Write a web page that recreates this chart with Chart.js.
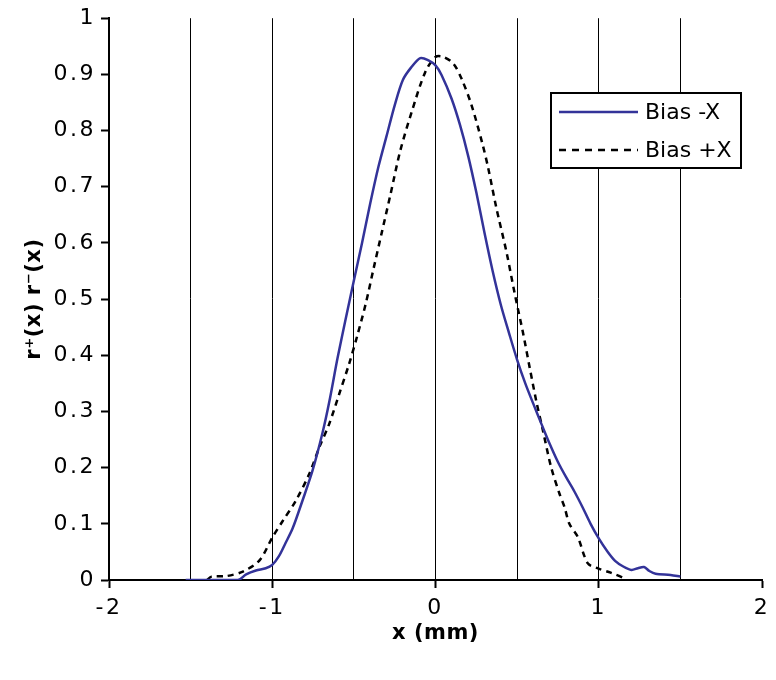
<!DOCTYPE html>
<html>
<head>
<meta charset="utf-8">
<script src="https://cdn.jsdelivr.net/npm/chart.js@4"></script>
<style>
html,body{margin:0;padding:0;background:#fff;}
#wrap{width:776px;height:680px;}
</style>
</head>
<body>
<div id="wrap"><canvas id="chart" width="776" height="680"></canvas></div>
<script>
// values
let minusX=[-1.53,-1.21,-1.16,-1.10,-1.04,-1.00,-0.96,-0.92,-0.875,-0.814,-0.753,-0.692,-0.65,-0.60,-0.55,-0.50,-0.45,-0.40,-0.35,-0.30,-0.25,-0.20,-0.15,-0.093,-0.043,0,0.037,0.098,0.15,0.20,0.25,0.30,0.35,0.40,0.45,0.50,0.55,0.60,0.65,0.70,0.75,0.80,0.85,0.90,0.95,1.00,1.05,1.10,1.15,1.20,1.24,1.277,1.31,1.348,1.44,1.5]
let minusY=[0,0,0.01,0.017,0.021,0.027,0.042,0.065,0.092,0.142,0.195,0.262,0.318,0.395,0.465,0.533,0.600,0.670,0.735,0.790,0.845,0.890,0.912,0.929,0.925,0.916,0.899,0.857,0.81,0.755,0.69,0.618,0.55,0.49,0.44,0.392,0.35,0.313,0.277,0.242,0.21,0.183,0.158,0.13,0.10,0.074,0.052,0.034,0.024,0.018,0.021,0.023,0.016,0.011,0.009,0.006]

let plusX=[-1.40,-1.372,-1.28,-1.18,-1.078,-0.997,-0.936,-0.854,-0.773,-0.712,-0.651,-0.59,-0.53,-0.479,-0.428,-0.378,-0.327,-0.276,-0.215,-0.146,-0.063,0,0.049,0.11,0.16,0.221,0.287,0.323,0.373,0.434,0.485,0.536,0.577,0.617,0.658,0.708,0.759,0.79,0.82,0.871,0.932,0.992,1.073,1.155,1.16]
let plusY=[0,0.006,0.007,0.015,0.035,0.077,0.105,0.142,0.189,0.236,0.278,0.331,0.384,0.435,0.491,0.556,0.621,0.686,0.765,0.833,0.904,0.931,0.931,0.919,0.892,0.845,0.777,0.733,0.662,0.585,0.51,0.44,0.378,0.319,0.266,0.201,0.154,0.13,0.1,0.077,0.03,0.021,0.013,0.003,0]

let seriesNames=["Bias -X","Bias +X"]
let xTickLabels=["-2","-1","0","1","2"]

function pairs(xs,ys){
return xs.map((x,i)=>({x:x,y:ys[i]}))
}

// letter spacing for text, legend drawn as a box inside the plot
let textPlugin={
id:"textSpacing",
beforeDraw(chart){ chart.ctx.letterSpacing="0.5px" },
afterDatasetsDraw(chart){ chart.ctx.letterSpacing="2.5px" },
afterDraw(chart){
let ctx=chart.ctx
ctx.save()
ctx.letterSpacing="0px"
let left=551,top=93,w=190,h=75
ctx.fillStyle="#fff"
ctx.fillRect(left,top,w,h)
ctx.lineWidth=2
ctx.strokeStyle="#000"
ctx.setLineDash([])
ctx.strokeRect(left,top,w,h)
chart.data.datasets.forEach((ds,i)=>{
let y=top+19+i*38
ctx.beginPath()
ctx.strokeStyle=ds.borderColor
ctx.lineWidth=ds.borderWidth
ctx.setLineDash(ds.borderDash?[7,6]:[])
ctx.moveTo(left+8,y)
ctx.lineTo(left+87,y)
ctx.stroke()
ctx.setLineDash([])
ctx.fillStyle="#000"
ctx.font="22px 'DejaVu Sans'"
ctx.textBaseline="middle"
ctx.textAlign="left"
ctx.fillText(ds.label,left+94,y+1)
})
ctx.restore()
chart.ctx.letterSpacing="0px"
}
}

let ctx=document.getElementById("chart").getContext("2d")

new Chart(ctx,{
type:"scatter",
data:{
datasets:[{
label:seriesNames[0],
data:pairs(minusX,minusY),
showLine:true,
borderColor:"#333399",
borderWidth:2.5,
pointRadius:0,
tension:0.3,
fill:false
},{
label:seriesNames[1],
data:pairs(plusX,plusY),
showLine:true,
borderColor:"#000000",
borderWidth:2.5,
borderDash:[6,5],
pointRadius:0,
tension:0.3,
fill:false
}]
},
options:{
responsive:false,
animation:false,
layout:{padding:{top:16,right:10,left:0,bottom:0}},
plugins:{legend:{display:false},tooltip:{enabled:false}},
scales:{
x:{
type:"linear",
min:-2,max:2,
afterFit(s){ s.height=100 },
border:{color:"#000",width:2},
grid:{
color:c=>(c.tick && c.tick.value>-2 && c.tick.value<2)?"#000":"rgba(0,0,0,0)",
lineWidth:1,
tickColor:c=>(c.tick && Number.isInteger(c.tick.value))?"#000":"rgba(0,0,0,0)",
tickLength:8,
tickWidth:2
},
ticks:{
stepSize:0.5,
z:1,
autoSkip:false,
maxRotation:0,
padding:7,
color:"#000",
font:{family:"'DejaVu Sans'",size:22},
callback:v=>Number.isInteger(v)?xTickLabels[v+2]:""
},
title:{
display:true,
text:"x (mm)",
color:"#000",
font:{family:"'DejaVu Sans'",size:21,weight:"bold"},
padding:{top:0,bottom:34}
}
},
y:{
min:0,max:1,
afterFit(s){ s.width=109 },
border:{color:"#000",width:2},
grid:{
drawOnChartArea:false,
color:"#000",
tickColor:"#000",
tickLength:8,
tickWidth:2
},
ticks:{
stepSize:0.1,
z:1,
padding:5,
color:"#000",
font:{family:"'DejaVu Sans'",size:22},
callback:v=>String(+v.toFixed(1))
},
title:{
display:true,
text:"r\u207A(x) r\u207B(x)",
color:"#000",
font:{family:"'DejaVu Sans'",size:21,weight:"bold"},
padding:{top:22,bottom:0}
}
}
}
},
plugins:[textPlugin]
})
</script>
</body>
</html>
